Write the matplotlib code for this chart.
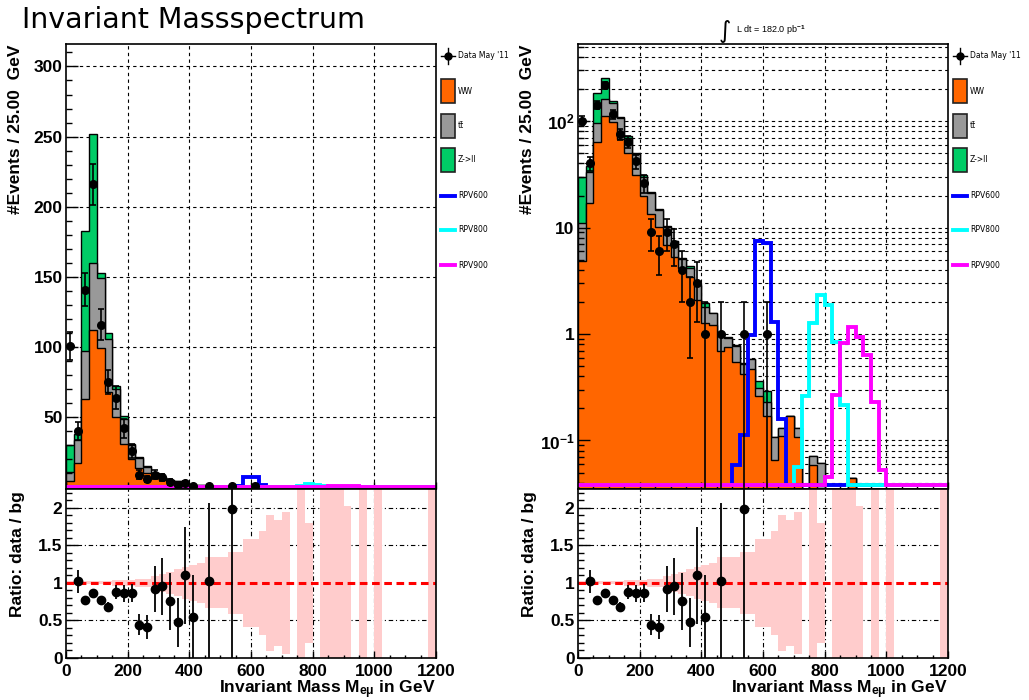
import numpy as np
import matplotlib
matplotlib.use("Agg")
import matplotlib.pyplot as plt
from matplotlib.ticker import MultipleLocator, FixedLocator, FixedFormatter, NullFormatter
from matplotlib.patches import Rectangle
from matplotlib.lines import Line2D

plt.rcParams['font.family'] = ['Liberation Sans', 'DejaVu Sans']
plt.rcParams['font.weight'] = 'bold'
plt.rcParams['mathtext.fontset'] = 'custom'
plt.rcParams['mathtext.rm'] = 'Liberation Sans:bold'
plt.rcParams['mathtext.it'] = 'Liberation Sans:italic:bold'
plt.rcParams['mathtext.bf'] = 'Liberation Sans:bold'

# ---- data (25 GeV bins, 0..1200 GeV) ----
bin_width = 25
n_bins = 48

ww = [4.8, 17, 63, 112, 99, 68, 50, 31, 20, 13.5,
      10.2, 6.8, 5.3, 4.2, 3.4, 2.1, 1.26, 1.21, 0.70, 0.75,
      0.55, 0.42, 0.47, 0.26, 0.17, 0.065, 0.11, 0.17, 0.108, 0,
      0.059, 0, 0, 0.02, 0.02, 0.044, 0.03, 0, 0.02, 0,
      0.02, 0, 0, 0, 0, 0, 0, 0.02]
ttbar = [6.2, 16.5, 34, 48, 50, 38, 20, 18, 10, 7.5,
         4.5, 3.4, 2.1, 0.9, 0.8, 0.8, 0.54, 0.35, 0.28, 0.17,
         0.22, 0.10, 0.11, 0.05, 0.06, 0.043, 0.02, 0, 0.022, 0,
         0.013, 0.062] + [0] * 16
zll = [19, 4.5, 86, 92, 4, 4, 2, 1.5, 1, 0.5,
       0.2, 0.2, 0.1, 0.1, 0.2, 0.1, 0.15, 0.02, 0.01, 0.01,
       0.01, 0.01, 0, 0.05, 0.06] + [0] * 23

rpv600 = [0] * 20 + [0.059, 0.112, 0.98, 7.4, 7.1, 1.3, 0.16] + [0] * 21
rpv800 = [0] * 28 + [0.056, 0.26, 1.26, 2.33, 1.87, 0.85, 0.215] + [0] * 13
rpv900 = [0] * 32 + [0.045, 0.267, 0.82, 1.17, 0.94, 0.63, 0.23, 0.053] + [0] * 8

data = [101, 40, 141, 216, 116, 75, 64, 42, 26, 9,
        6, 9, 7, 4, 2, 3, 1, 0, 1, 0,
        0, 1, 0, 0, 1] + [0] * 23
data_err = [10, 6.3, 11.9, 14.7, 10.8, 8.7, 8, 6.5, 5.1, 3,
            2.4, 3, 2.6, 2, 1.4, 1.7, 1, 0, 1, 0,
            0, 1, 0, 0, 1] + [0] * 23

ratio_bins = [1, 2, 3, 4, 5, 6, 7, 8, 9, 10, 11, 12, 13, 14, 15, 16, 18, 21]
ratio = [1.02, 0.77, 0.87, 0.77, 0.68, 0.88, 0.86, 0.86, 0.44, 0.41,
         0.92, 0.955, 0.755, 0.475, 1.10, 0.55, 1.03, 1.99]
ratio_err = [0.155, 0.06, 0.05, 0.06, 0.07, 0.09, 0.11, 0.12, 0.14, 0.16,
             0.31, 0.38, 0.38, 0.33, 0.65, 0.55, 1.03, 1.99]

nan = np.nan
band_err = [0.02, 0.02, 0.02, 0.02, 0.02, 0.02, 0.035, 0.035, 0.035, 0.05,
            0.05, 0.09, 0.12, 0.15, 0.18, 0.21, 0.24, 0.27, 0.34, 0.34,
            0.34, 0.41, 0.41, 0.59, 0.59, 0.69, 0.91, 0.84, 0.95, nan,
            3, 0.8, nan, 3, 3, 3, 1.02, nan, 3, nan,
            3, nan, nan, nan, nan, nan, nan, 3]

legend_labels = ["Data May '11", "WW", "tt\u0304", "Z->ll",
                 "RPV600", "RPV800", "RPV900"]

c_ww = '#ff6600'
c_tt = '#999999'
c_z = '#00cc66'
c_sig = ['#0000ff', '#00ffff', '#ff00ff']

W, H = 1029, 700
edges = np.arange(n_bins + 1) * bin_width
centers = edges[:-1] + bin_width / 2

s1 = np.array(ww)
s2 = s1 + np.array(ttbar)
s3 = s2 + np.array(zll)
data = np.array(data, float)
data_err = np.array(data_err, float)
band_err = np.array(band_err, float)


def rect(l, t, r, b):
    return [l / W, 1 - b / H, (r - l) / W, (b - t) / H]


fig = plt.figure(figsize=(W / 100, H / 100), dpi=100)
grid_kw = dict(color='black', lw=0.8, ls=(0, (3, 3)), zorder=0.5)
rgrid_kw = dict(color='black', lw=0.8, ls=(0, (4, 2.5, 1, 2.5)), zorder=0.5)


def draw_legend(x0):
    fx = lambda x: x / W
    fy = lambda y: 1 - y / H
    ys = [56, 91, 126, 160, 196, 230, 265]
    # data entry
    y = ys[0]
    fig.add_artist(Line2D([fx(x0), fx(x0 + 14)], [fy(y), fy(y)], color='black', lw=1))
    fig.add_artist(Line2D([fx(x0 + 7), fx(x0 + 7)], [fy(y - 8), fy(y + 8)], color='black', lw=1))
    fig.add_artist(Line2D([fx(x0 + 7)], [fy(y)], marker='o', ms=5, color='black'))
    for y, c in zip(ys[1:4], [c_ww, c_tt, c_z]):
        fig.add_artist(Rectangle((fx(x0), fy(y + 12)), 14 / W, 24 / H,
                                 facecolor=c, edgecolor='#222222', lw=1.2))
    for y, c in zip(ys[4:], c_sig):
        fig.add_artist(Line2D([fx(x0), fx(x0 + 14)], [fy(y), fy(y)], color=c, lw=2.8))
    for y, lab in zip(ys, legend_labels):
        fig.text(fx(x0 + 17), fy(y), lab, fontsize=5.5, fontweight='normal',
                 family=['DejaVu Sans'], va='center')


for left, right, log in [(66, 436, False), (578, 948, True)]:
    ax = fig.add_axes(rect(left, 44, right, 489))
    axr = fig.add_axes(rect(left, 489, right, 658))

    if log:
        ax.set_yscale('log')
        ymin, ymax = 0.035, 530
        base = 1e-4
        floor = ymin * 1.08
        major = [0.1, 1, 10, 100]
        minor = [k * 10.0 ** e for e in range(-2, 3) for k in range(2, 10)
                 if ymin < k * 10.0 ** e < ymax]
        ax.yaxis.set_major_locator(FixedLocator(major))
        ax.yaxis.set_major_formatter(FixedFormatter(
            [r'$\mathbf{10^{-1}}$', '1', '10', r'$\mathbf{10^{2}}$']))
        ax.yaxis.set_minor_locator(FixedLocator(minor))
        ax.yaxis.set_minor_formatter(NullFormatter())
        hgrid = major + minor
    else:
        ymin, ymax = -1.2, 316
        base = 0
        floor = 0
        ax.yaxis.set_major_locator(FixedLocator([50, 100, 150, 200, 250, 300]))
        ax.yaxis.set_minor_locator(MultipleLocator(10))
        hgrid = [50, 100, 150, 200, 250, 300]

    for x in [200, 400, 600, 800, 1000]:
        ax.axvline(x, **grid_kw)
        axr.axvline(x, **rgrid_kw)
    for y in hgrid:
        ax.axhline(y, **grid_kw)
    for y in [0.5, 1.5, 2]:
        axr.axhline(y, **rgrid_kw)

    # stacked backgrounds
    for s, c in [(s3, c_z), (s2, c_tt), (s1, c_ww)]:
        ax.stairs(np.maximum(s, base), edges, fill=True, facecolor=c,
                  edgecolor='black', lw=1.0, baseline=base, zorder=1)

    # signals
    for sig, c in zip([rpv600, rpv800, rpv900], c_sig):
        ax.stairs(np.maximum(np.array(sig, float), floor), edges, color=c,
                  lw=2.8, baseline=None, zorder=2)

    # data
    m = data > 0
    ax.errorbar(centers[m], data[m], yerr=data_err[m], fmt='o', color='black',
                ms=5.5, elinewidth=1.2, capsize=2, capthick=1.2, zorder=3)

    ax.set_xlim(0, 1200)
    ax.set_ylim(ymin, ymax)
    ax.xaxis.set_major_locator(MultipleLocator(200))
    ax.xaxis.set_minor_locator(MultipleLocator(50))
    ax.tick_params(axis='x', labelbottom=False)
    ax.set_ylabel('#Events / 25.00  GeV', fontsize=12.5, fontweight='bold', loc='top')
    ax.yaxis.set_label_coords(-0.115, 1.0)

    # ratio panel
    bm = ~np.isnan(band_err)
    axr.bar(centers[bm], 2 * band_err[bm], bottom=1 - band_err[bm], width=bin_width,
            color='#ffcccc', lw=0, zorder=1)
    axr.axhline(1, color='#ff0000', lw=2.2, ls=(0, (2.5, 1.5)), zorder=2)
    axr.errorbar(centers[ratio_bins], ratio, yerr=ratio_err, fmt='o', color='black',
                 ms=6, elinewidth=1.3, capsize=0, zorder=3)
    axr.set_xlim(0, 1200)
    axr.set_ylim(0, 2.25)
    axr.xaxis.set_major_locator(MultipleLocator(200))
    axr.xaxis.set_minor_locator(MultipleLocator(50))
    axr.yaxis.set_major_locator(FixedLocator([0, 0.5, 1, 1.5, 2]))
    axr.yaxis.set_major_formatter(FixedFormatter(['0', '0.5', '1', '1.5', '2']))
    axr.yaxis.set_minor_locator(MultipleLocator(0.1))
    axr.set_ylabel('Ratio: data / bg', fontsize=12.5, fontweight='bold', loc='top')
    axr.yaxis.set_label_coords(-0.11, 0.985)
    axr.set_xlabel(r'Invariant Mass M$_{\mathregular{e\mu}}$ in GeV', fontsize=12.5,
                   fontweight='bold', loc='right')
    axr.xaxis.set_label_coords(1.0, -0.12)

    for a in (ax, axr):
        for sp in a.spines.values():
            sp.set_linewidth(1.2)
            sp.set_zorder(5)
        a.tick_params(which='both', direction='in', top=False, right=False,
                      labelsize=12.5, width=1)
        a.tick_params(axis='y', which='major', length=8.5, pad=2.5)
        a.tick_params(axis='y', which='minor', length=4.3)
        a.tick_params(axis='x', which='major', length=5, pad=4)
        a.tick_params(axis='x', which='minor', length=2.5)
        for lab in a.get_xticklabels() + a.get_yticklabels():
            lab.set_fontweight('bold')

    draw_legend(right + 5)

fig.text(22 / W, 1 - 20 / H, 'Invariant Massspectrum', fontsize=20.5,
         family='DejaVu Sans', fontweight='normal', va='center')
fig.text(719 / W, 1 - 31 / H, '\u222b', fontsize=17, fontweight='normal',
         family=['DejaVu Sans'], va='center')
fig.text(736 / W, 1 - 30 / H, 'L dt = 182.0 pb$^{-1}$', fontsize=6.5,
         fontweight='normal', va='center')

fig.savefig('out.png', dpi=100)
